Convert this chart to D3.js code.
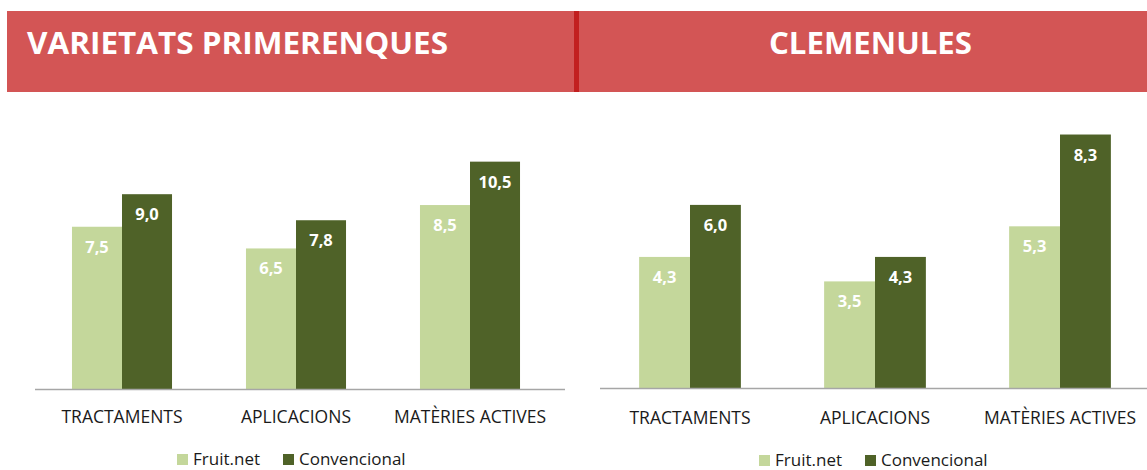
<!DOCTYPE html>
<html>
<head>
<meta charset="utf-8">
<script src="https://cdn.jsdelivr.net/npm/d3@7"></script>
<style>
  body { margin: 0; background: #fff; }
  text { font-family: "Open Sans", sans-serif; }
</style>
</head>
<body>
<div id="viz"></div>
<script>
// Chart data
const categories = ["TRACTAMENTS", "APLICACIONS", "MATÈRIES ACTIVES"];
const seriesNames = ["Fruit.net", "Convencional"];
const titles = ["VARIETATS PRIMERENQUES", "CLEMENULES"];
const primerenquesFruitnet = [7.5, 6.5, 8.5];
const primerenquesConvencional = [9.0, 7.8, 10.5];
const clemenulesFruitnet = [4.3, 3.5, 5.3];
const clemenulesConvencional = [6.0, 4.3, 8.3];

const width = 1147;
const height = 470;
const colors = ["#c4d79b", "#4f6228"];

const svg = d3.select("#viz").append("svg")
    .attr("width", width)
    .attr("height", height);

// Header band
svg.append("rect")
    .attr("x", 7).attr("y", 11)
    .attr("width", width - 7).attr("height", 81)
    .attr("fill", "#d35555");
svg.append("rect")
    .attr("x", 574).attr("y", 11)
    .attr("width", 5).attr("height", 81)
    .attr("fill", "#c21f1f");

svg.append("text")
    .attr("x", 27).attr("y", 54)
    .attr("fill", "#fff")
    .attr("font-size", 30)
    .attr("font-weight", 700)
    .attr("textLength", 421)
    .attr("lengthAdjust", "spacingAndGlyphs")
    .text(titles[0]);
svg.append("text")
    .attr("x", 769).attr("y", 54)
    .attr("fill", "#fff")
    .attr("font-size", 30)
    .attr("font-weight", 700)
    .attr("textLength", 203)
    .attr("lengthAdjust", "spacingAndGlyphs")
    .text(titles[1]);

// Panel settings
const panels = [
    {
        values: [primerenquesFruitnet, primerenquesConvencional],
        xRange: [35, 557], padding: 0.425,
        base: 389.5, yMax: 12, pxPerUnit: 21.7,
        axis: [35, 565], labelY: 423, legendX: 177, legendY: 465
    },
    {
        values: [clemenulesFruitnet, clemenulesConvencional],
        xRange: [597.5, 1152.5], padding: 0.45,
        base: 388.5, yMax: 9, pxPerUnit: 30.6,
        axis: [600, 1147], labelY: 424, legendX: 759, legendY: 466
    }
];

panels.forEach(p => {
    const g = svg.append("g");

    const x = d3.scaleBand()
        .domain(categories)
        .range(p.xRange)
        .paddingInner(p.padding)
        .paddingOuter(p.padding / 2);

    const xSub = d3.scaleBand()
        .domain(seriesNames)
        .range([0, x.bandwidth()]);

    const y = d3.scaleLinear()
        .domain([0, p.yMax])
        .range([p.base, p.base - p.yMax * p.pxPerUnit]);

    const rows = categories.map((c, i) => ({
        cat: c,
        items: seriesNames.map((s, j) => ({ name: s, idx: j, value: p.values[j][i] }))
    }));

    const groups = g.selectAll("g.cat")
        .data(rows)
        .enter()
        .append("g")
        .attr("class", "cat")
        .attr("transform", d => `translate(${x(d.cat)},0)`);

    groups.selectAll("rect")
        .data(d => d.items)
        .enter()
        .append("rect")
        .attr("x", d => xSub(d.name))
        .attr("y", d => y(d.value))
        .attr("width", xSub.bandwidth())
        .attr("height", d => y(0) - y(d.value))
        .attr("fill", d => colors[d.idx]);

    groups.selectAll("text.val")
        .data(d => d.items)
        .enter()
        .append("text")
        .attr("class", "val")
        .attr("x", d => xSub(d.name) + xSub.bandwidth() / 2)
        .attr("y", d => y(d.value) + 26)
        .attr("text-anchor", "middle")
        .attr("fill", "#fff")
        .attr("font-size", 16.5)
        .attr("font-weight", 700)
        .text(d => d3.format(".1f")(d.value).replace(".", ","));

    // baseline
    g.append("line")
        .attr("x1", p.axis[0]).attr("x2", p.axis[1])
        .attr("y1", y(0)).attr("y2", y(0))
        .attr("stroke", "#a6a6a6")
        .attr("stroke-width", 1.5);

    // category labels
    g.selectAll("text.cat")
        .data(categories)
        .enter()
        .append("text")
        .attr("class", "cat")
        .attr("x", d => x(d) + x.bandwidth() / 2)
        .attr("y", p.labelY)
        .attr("text-anchor", "middle")
        .attr("fill", "#1a1a1a")
        .attr("font-size", 17.5)
        .text(d => d);

    // legend
    const legendOffsets = [0, 106];
    const legend = g.selectAll("g.legend")
        .data(seriesNames)
        .enter()
        .append("g")
        .attr("class", "legend")
        .attr("transform", (d, i) => `translate(${p.legendX + legendOffsets[i]},${p.legendY})`);
    legend.append("rect")
        .attr("x", 0).attr("y", -11)
        .attr("width", 11).attr("height", 11)
        .attr("fill", (d, i) => colors[i]);
    legend.append("text")
        .attr("x", 16).attr("y", 0)
        .attr("fill", "#1a1a1a")
        .attr("font-size", 17)
        .text(d => d);
});
</script>
</body>
</html>
